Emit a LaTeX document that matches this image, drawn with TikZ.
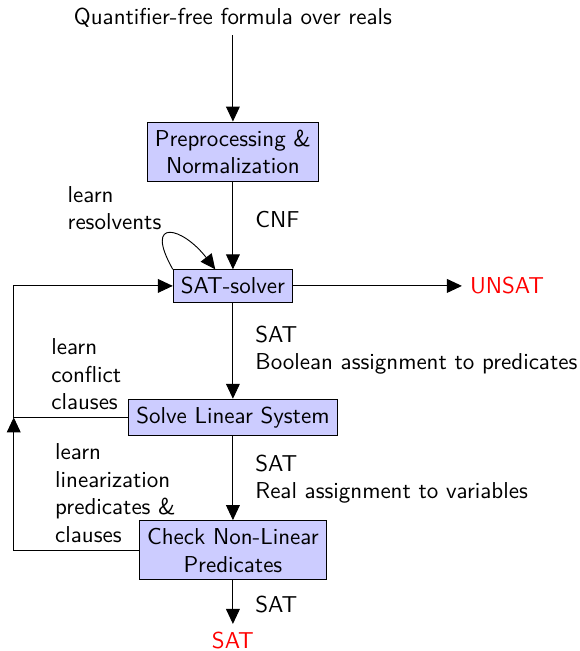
\documentclass[tikz,border=0pt]{standalone}
\usetikzlibrary{arrows.meta}
\renewcommand{\familydefault}{\sfdefault}
\tikzset{
  stage/.style={rectangle, draw, fill=blue!20, align=center},
  note/.style={anchor=west, align=left},
  result/.style={text=red},
  flow/.style={-{Triangle[length=6.5pt,width=6pt]}}
}
\begin{document}
\begin{tikzpicture}
  \useasboundingbox (-3.56,0) rectangle (5.29,-9.95);
  % Stages
  \node (input) at (0,-0.27) {Quantifier-free formula over reals};
  \node (prep) at (0,-2.32) [stage] {Preprocessing \&\\Normalization};
  \node (sat) at (0,-4.37) [stage] {SAT-solver};
  \node (solve) at (0,-6.38) [stage] {Solve Linear System};
  \node (check) at (0,-8.41) [stage] {Check Non-Linear\\Predicates};

  % Results
  \node (unsat) at (3.5,-4.37) [result, anchor=west] {UNSAT};
  \node (sat out) at (0,-9.79) [result] {SAT};

  % Main flow
  \draw[flow] (input) -- (prep);
  \draw[flow] (prep) -- (sat);
  \draw[flow] (sat) -- (unsat);
  \draw[flow] (sat) -- (solve);
  \draw[flow] (solve) -- (check);
  \draw[flow] (check) -- (sat out);

  % Learning loops
  \coordinate (back) at (-3.35,-6.38);
  \draw[flow] (sat.north west) .. controls +(-0.45,0.8) and +(-0.5,0.65) .. ([xshift=-0.27cm]sat.north);
  \draw[flow] (solve.west) -- (back) |- (sat.west);
  \draw[flow] (check.west) -| (back);

  % Labels
  \node (cnf) at (0.22,-3.36) [note] {CNF};
  \node (bool) at (0.22,-5.35) [note] {SAT\\Boolean assignment to predicates};
  \node (real) at (0.22,-7.32) [note] {SAT\\Real assignment to variables};
  \node (final) at (0.22,-9.24) [note] {SAT};
  \node (resolv) at (-2.65,-3.18) [note] {learn\\resolvents};
  \node (confl) at (-2.9,-5.72) [note] {learn\\conflict\\clauses};
  \node (lin) at (-2.84,-7.54) [note] {learn\\linearization\\predicates \&\\clauses};
\end{tikzpicture}
\end{document}
